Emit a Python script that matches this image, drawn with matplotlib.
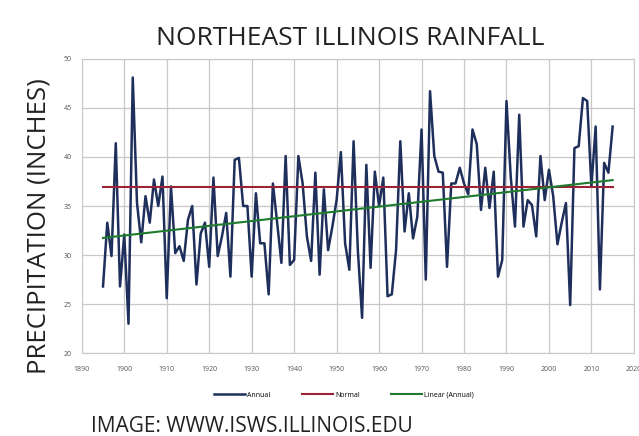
import matplotlib
matplotlib.use('Agg')
import matplotlib.pyplot as plt
import numpy as np

# Annual precipitation, NE Illinois
years = list(range(1895, 2016))
annual = [
    26.8, 33.3, 29.9, 41.4, 26.8, 32.1, 23.0, 48.1, 35.3, 31.3,
    36.0, 33.3, 37.7, 35.0, 38.0, 25.6, 37.0, 30.2, 30.9, 29.4,
    33.6, 35.0, 27.0, 32.2, 33.3, 28.8, 37.9, 29.9, 31.9, 34.3,
    27.8, 39.7, 39.9, 35.0, 35.0, 27.8, 36.3, 31.2, 31.2, 26.0,
    37.3, 33.3, 29.2, 40.1, 29.0, 29.5, 40.1, 37.3, 31.9, 29.4,
    38.4, 28.0, 36.7, 30.5, 32.9, 35.6, 40.5, 31.2, 28.5, 41.6,
    30.5, 23.6, 39.2, 28.7, 38.5, 35.0, 37.9, 25.8, 26.0, 30.5,
    41.6, 32.4, 36.3, 31.7, 33.9, 42.8, 27.5, 46.7, 40.1, 38.5,
    38.4, 28.8, 37.3, 37.3, 38.9, 37.3, 36.2, 42.8, 41.3, 34.6,
    38.9, 34.8, 38.5, 27.8, 29.5, 45.7, 38.0, 32.9, 44.3, 32.9,
    35.6, 35.1, 31.9, 40.1, 35.6, 38.7, 36.0, 31.1, 33.3, 35.3,
    24.9, 40.9, 41.1, 46.0, 45.7, 37.0, 43.1, 26.5, 39.4, 38.4,
    43.1,
]
normal = 36.9

x = np.array(years)
y = np.array(annual)
slope, intercept = np.polyfit(x, y, 1)

plt.rcParams['font.family'] = ['Open Sans', 'DejaVu Sans']

fig = plt.figure(figsize=(6.39, 4.36), dpi=100)
ax = fig.add_axes([0.128, 0.19, 0.864, 0.675])

ax.plot(x, y, color='#1f2f5c', lw=1.8, label='Annual')
ax.plot([x[0], x[-1]], [normal, normal], color='#9b2335', lw=1.5, label='Normal')
ax.plot(x, slope * x + intercept, color='#1e7b2e', lw=1.5, label='Linear (Annual)')

ax.set_xlim(1890, 2020)
ax.set_ylim(20, 50)
ax.set_xticks(range(1890, 2021, 10))
ax.set_yticks(range(20, 51, 5))
ax.tick_params(labelsize=5, colors='#555555', length=0)
ax.tick_params(axis='y', pad=7)
ax.tick_params(axis='x', pad=9)
ax.grid(color='#c8c8c8', lw=0.9)
for s in ax.spines.values():
    s.set_color('#c8c8c8')

fig.text(0.061, 0.482, 'PRECIPITATION (INCHES)', rotation=90, ha='center', va='center',
         fontsize=18.5, color='#222222')
fig.text(0.548, 0.897, 'NORTHEAST ILLINOIS RAINFALL', ha='center', va='baseline',
         fontsize=19, color='#222222')

ax.legend(loc='center', bbox_to_anchor=(0.475, -0.143), ncol=3, frameon=False,
          fontsize=5, handlelength=4.5, columnspacing=4.5, handletextpad=0.3)

fig.text(0.142, 0.01, 'IMAGE: WWW.ISWS.ILLINOIS.EDU', fontsize=15, color='#222222',
         va='baseline')

fig.savefig('out.png', dpi=100)
